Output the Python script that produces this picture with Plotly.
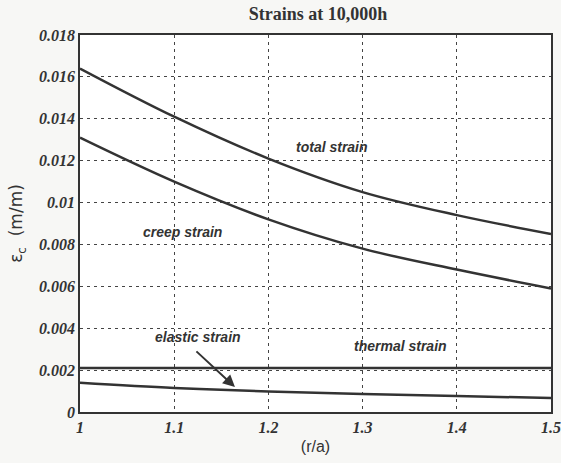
import plotly.graph_objects as go

r_a = [1.0, 1.1, 1.2, 1.3, 1.4, 1.5]
total_strain = [0.0164, 0.0141, 0.0121, 0.0105, 0.0094, 0.0085]
creep_strain = [0.0131, 0.0110, 0.0092, 0.0078, 0.0068, 0.0059]
thermal_strain = [0.0021, 0.0021, 0.0021, 0.0021, 0.0021, 0.0021]
elastic_strain = [0.0014, 0.00115, 0.00098, 0.00086, 0.00076, 0.00067]

x_ticks = [1.0, 1.1, 1.2, 1.3, 1.4, 1.5]
x_tick_labels = ["1", "1.1", "1.2", "1.3", "1.4", "1.5"]
y_ticks = [0, 0.002, 0.004, 0.006, 0.008, 0.01, 0.012, 0.014, 0.016, 0.018]
y_tick_labels = ["0", "0.002", "0.004", "0.006", "0.008", "0.01", "0.012", "0.014", "0.016", "0.018"]

line_color = "#333333"
fig = go.Figure()
for ys in [total_strain, creep_strain, thermal_strain, elastic_strain]:
    fig.add_trace(go.Scatter(x=r_a, y=ys, mode="lines", line=dict(color=line_color, width=2.5, shape="spline"),
                             showlegend=False, hoverinfo="skip"))

lab_font = dict(family="Liberation Sans Narrow, Liberation Sans, Arial", size=14, color="#333333")
fig.add_annotation(x=1.2675, y=0.01266, text="<b><i>total strain</i></b>", showarrow=False, font=lab_font)
fig.add_annotation(x=1.109, y=0.0086, text="<b><i>creep strain</i></b>", showarrow=False, font=lab_font)
fig.add_annotation(x=1.125, y=0.00358, text="<b><i>elastic strain</i></b>", showarrow=False, font=lab_font)
fig.add_annotation(x=1.34, y=0.00315, text="<b><i>thermal strain</i></b>", showarrow=False, font=lab_font)
fig.add_annotation(x=1.1645, y=0.00119, ax=1.122, ay=0.00296, axref="x", ayref="y", xref="x", yref="y",
                   text="", showarrow=True, arrowhead=2, arrowsize=1.2, arrowwidth=2, arrowcolor="#333333")

tick_font = dict(family="Liberation Serif, Times New Roman, serif", size=16, color="#333333", weight="bold", style="italic")
axis_common = dict(showline=True, linecolor="#333333", linewidth=1.5, mirror=True, ticks="", automargin=False,
                   showgrid=True, gridcolor="#444444", griddash="3px,4px", gridwidth=1,
                   zeroline=False, tickfont=tick_font)

fig.update_layout(
    width=561, height=463,
    margin=dict(l=80, r=10, t=35, b=51),
    paper_bgcolor="#f7f7f5", plot_bgcolor="#ffffff",
    title=dict(text="<b>Strains at 10,000h</b>", x=0.567, xanchor="center", y=0.97, yanchor="middle",
               font=dict(family="Liberation Serif, Times New Roman, serif", size=18, color="#333333")),
    xaxis=dict(range=[1.0, 1.5], tickvals=x_ticks, ticktext=x_tick_labels,
               title=dict(text="(r/a)", standoff=6, font=dict(family="Liberation Sans, Arial", size=16, color="#333333")),
               **axis_common),
    yaxis=dict(range=[0, 0.018], tickvals=y_ticks, ticktext=y_tick_labels,
               title=dict(text="ε<sub>c</sub>  (m/m)", standoff=12, font=dict(family="DejaVu Sans, Arial", size=17, color="#333333")),
               **axis_common),
)

fig.write_html("out.html", config={"displayModeBar": False},
               post_script="document.body.style.margin='0';document.body.style.overflow='hidden';")
